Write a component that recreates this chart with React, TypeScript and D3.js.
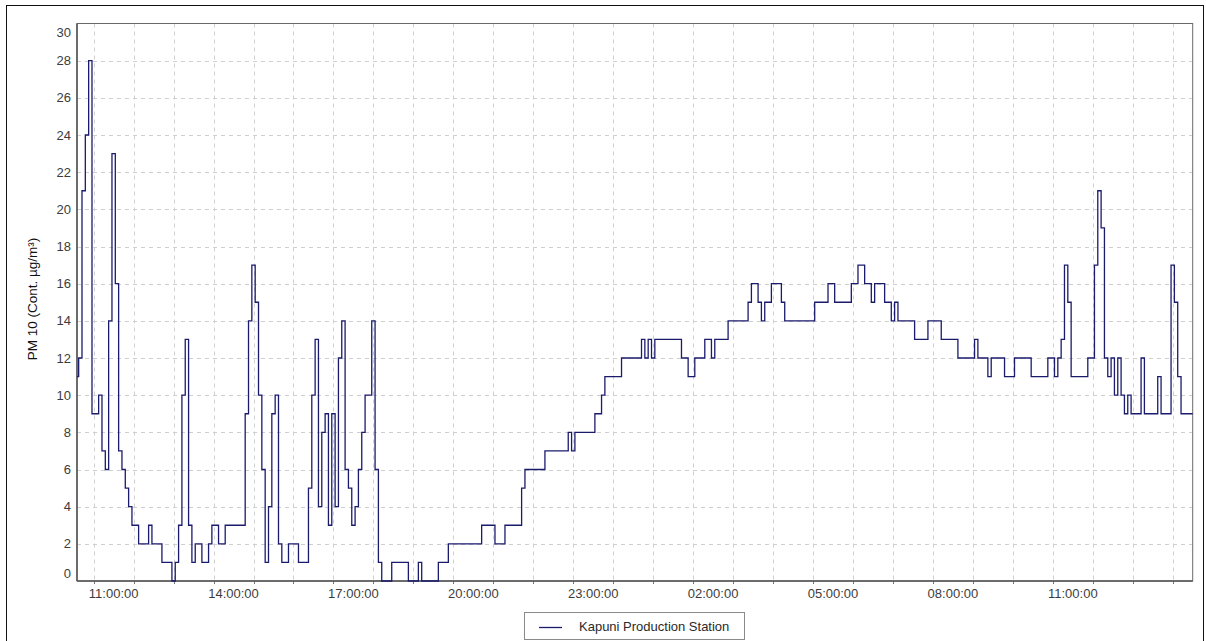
import React from 'react';
import * as d3 from 'd3';

const seriesName = 'Kapuni Production Station';
const yAxisTitle = 'PM 10 (Cont. µg/m³)';
const startTime = new Date(2000, 0, 1, 10, 5);
const stepMinutes = 5;

// PM10 readings, one every 5 minutes from 10:05 (each row = one hour)
const pm10: number[] = [
  11, 12, 21, 24, 28, 9, 9, 10, 7, 6, 14, 23,
  16, 7, 6, 5, 4, 3, 3, 2, 2, 2, 3, 2,
  2, 2, 1, 1, 1, 0, 1, 3, 10, 13, 3, 1,
  2, 2, 1, 1, 2, 3, 3, 2, 2, 3, 3, 3,
  3, 3, 3, 9, 14, 17, 15, 10, 6, 1, 4, 9,
  10, 2, 1, 1, 2, 2, 2, 1, 1, 1, 5, 10,
  13, 4, 8, 9, 3, 9, 4, 12, 14, 6, 5, 3,
  4, 6, 8, 10, 10, 14, 6, 1, 0, 0, 0, 1,
  1, 1, 1, 1, 0, 0, 0, 1, 0, 0, 0, 0,
  0, 1, 1, 1, 2, 2, 2, 2, 2, 2, 2, 2,
  2, 2, 3, 3, 3, 3, 2, 2, 2, 3, 3, 3,
  3, 3, 5, 6, 6, 6, 6, 6, 6, 7, 7, 7,
  7, 7, 7, 7, 8, 7, 8, 8, 8, 8, 8, 8,
  9, 9, 10, 11, 11, 11, 11, 11, 12, 12, 12, 12,
  12, 12, 13, 12, 13, 12, 13, 13, 13, 13, 13, 13,
  13, 13, 12, 12, 11, 11, 12, 12, 12, 13, 13, 12,
  13, 13, 13, 13, 14, 14, 14, 14, 14, 14, 15, 16,
  16, 15, 14, 15, 15, 16, 16, 16, 15, 14, 14, 14,
  14, 14, 14, 14, 14, 14, 15, 15, 15, 15, 16, 16,
  15, 15, 15, 15, 15, 16, 16, 17, 17, 16, 16, 15,
  16, 16, 16, 15, 15, 14, 15, 14, 14, 14, 14, 14,
  13, 13, 13, 13, 14, 14, 14, 14, 13, 13, 13, 13,
  13, 12, 12, 12, 12, 12, 13, 12, 12, 12, 11, 12,
  12, 12, 12, 11, 11, 11, 12, 12, 12, 12, 12, 11,
  11, 11, 11, 11, 12, 12, 11, 12, 13, 17, 15, 11,
  11, 11, 11, 11, 12, 12, 17, 21, 19, 12, 11, 12,
  10, 12, 10, 9, 10, 9, 9, 9, 12, 9, 9, 9,
  9, 11, 9, 9, 9, 17, 15, 11, 9, 9, 9, 9,
];

const yTickValues = [0, 2, 4, 6, 8, 10, 12, 14, 16, 18, 20, 22, 24, 26, 28, 30];
const yGridValues = [2, 4, 6, 8, 10, 12, 14, 16, 18, 20, 22, 24, 26, 28];
// hours counted from midnight of the first day
const xTickHours = [11, 14, 17, 20, 23, 26, 29, 32, 35];

const FONT = "'Liberation Sans', Arial, sans-serif";

export default function App() {
  const W = 1206;
  const H = 641;
  const plot = { left: 77, right: 1192.7, top: 23.5, bottom: 581 };

  const times = pm10.map((_, i) => d3.timeMinute.offset(startTime, i * stepMinutes));
  const tEnd = times[times.length - 1];
  const x = d3.scaleTime().domain([times[0], tEnd]).range([plot.left, plot.right]);
  const y = d3.scaleLinear().domain([0, 30]).range([plot.bottom, plot.top]);

  const lineGen = d3
    .line<number>()
    .x((_, i) => x(times[i]))
    .y((d) => y(d))
    .curve(d3.curveStep);

  const day0 = new Date(2000, 0, 1);
  const xTicks = xTickHours.map((h) => d3.timeHour.offset(day0, h));
  const fmt = d3.timeFormat('%H:%M:%S');
  const gridTimes = d3
    .timeHour.range(d3.timeHour.floor(times[0]), tEnd)
    .map((d) => d3.timeMinute.offset(d, 30))
    .filter((d) => d > times[0] && d < tEnd);

  const clampY = (v: number) => Math.max(plot.top + 9, Math.min(plot.bottom - 8, v));

  return (
    <svg
      width={W}
      height={H}
      style={{ position: 'absolute', left: 0, top: 0, background: '#fff' }}
      fontFamily={FONT}
    >
      <rect x={0} y={0} width={W} height={H} fill="#fff" />
      <rect x={6.5} y={5.5} width={1197} height={660} fill="none" stroke="#111" strokeWidth={1} />

      {/* grid */}
      <g stroke="#cfcfcf" strokeWidth={1} strokeDasharray="4,4">
        {yGridValues.map((v) => (
          <line key={'gy' + v} x1={plot.left} x2={plot.right} y1={Math.round(y(v)) + 0.5} y2={Math.round(y(v)) + 0.5} />
        ))}
        {gridTimes.map((t, i) => (
          <line key={'gx' + i} x1={Math.round(x(t)) + 0.5} x2={Math.round(x(t)) + 0.5} y1={plot.top} y2={plot.bottom} />
        ))}
      </g>

      {/* small ticks under the x axis */}
      <g stroke="#777" strokeWidth={1}>
        {gridTimes.map((t, i) => (
          <line key={'tx' + i} x1={Math.round(x(t)) + 0.5} x2={Math.round(x(t)) + 0.5} y1={plot.bottom} y2={plot.bottom + 3} />
        ))}
      </g>

      {/* plot frame */}
      <rect
        x={plot.left}
        y={plot.top}
        width={plot.right - plot.left}
        height={plot.bottom - plot.top}
        fill="none"
        stroke="#6a6a6a"
        strokeWidth={1}
      />
      <line x1={plot.left} x2={plot.left} y1={plot.top} y2={plot.bottom} stroke="#555" strokeWidth={1.5} />
      <line x1={plot.left} x2={plot.right} y1={plot.bottom} y2={plot.bottom} stroke="#555" strokeWidth={1.5} />

      {/* series */}
      <path d={lineGen(pm10) || ''} fill="none" stroke="#1b1b6e" strokeWidth={1.3} strokeLinejoin="miter" />

      {/* y tick labels */}
      <g fontSize={13} fill="#3c3c3c" textAnchor="end">
        {yTickValues.map((v) => (
          <text key={'yl' + v} x={71} y={clampY(y(v))} dy="0.35em">
            {v}
          </text>
        ))}
      </g>

      {/* x tick labels */}
      <g fontSize={13} fill="#3c3c3c" textAnchor="middle">
        {xTicks.map((t, i) => (
          <text key={'xl' + i} x={x(t)} y={598}>
            {fmt(t)}
          </text>
        ))}
      </g>

      {/* y axis title */}
      <text
        transform={`translate(37,${299}) rotate(-90)`}
        textAnchor="middle"
        fontSize={13.5}
        fill="#111"
      >
        {yAxisTitle}
      </text>

      {/* legend */}
      <rect x={524.5} y={612.5} width={220} height={27} fill="#fff" stroke="#8a8a8a" strokeWidth={1} />
      <line x1={539} x2={562} y1={627.5} y2={627.5} stroke="#1b1b6e" strokeWidth={1.3} />
      <text x={579} y={631} fontSize={13} fill="#2a2a2a">
        {seriesName}
      </text>
    </svg>
  );
}
